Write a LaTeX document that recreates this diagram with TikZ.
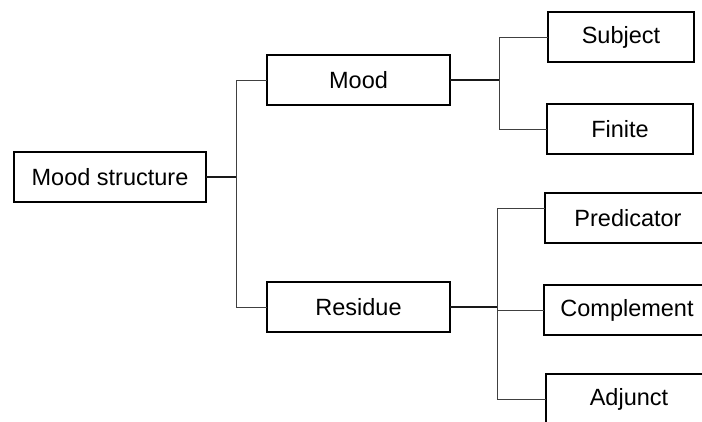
\documentclass[tikz,border=0pt]{standalone}
\usepackage{fontspec}
\setmainfont{Liberation Sans}
\usetikzlibrary{positioning}

\begin{document}
\begin{tikzpicture}[x=1pt, y=1pt,
        box/.style={rectangle, draw, line width=1.3pt, minimum height=50pt, inner sep=0pt, outer sep=0pt, font=\fontsize{23.5}{28}\selectfont},
        rank1/.style={box, minimum width=183pt},
        rank2/.style={box, minimum width=146pt},
        rank3/.style={box, minimum width=166pt},
        link/.style={-, line width=0.9pt, black!75},
        stem/.style={-, line width=1.3pt, black!90}
    ]
        \useasboundingbox (0,0) rectangle (702,421);
        \clip (0,0) rectangle (702,421);

        % Root
        \node[box, minimum width=192pt] (root) at (110,244) {Mood structure};

        % First level
        \node[rank1, above right=47pt and 61pt of root] (mood) {Mood};
        \node[rank1, below right=80pt and 61pt of root] (residue) {Residue};

        \draw[stem] (root.east) -- ++(30,0) coordinate (fork);
        \draw[link] (fork) |- (mood.west);
        \draw[link] (fork) |- (residue.west);

        % Mood branch
        \node[rank2, right=98pt of mood, yshift=43pt] (subject) {Subject};
        \node[rank2, right=97pt of mood, yshift=-49pt] (finite) {Finite};

        \draw[stem] (mood.east) -- ++(49,0) coordinate (mfork);
        \draw[link] (mfork) |- (subject.west);
        \draw[link] (mfork) |- (finite.west);

        % Residue branch
        \node[rank3, right=95pt of residue, yshift=89pt] (predicator) {Predicator};
        \node[rank3, right=94pt of residue, yshift=-3pt] (complement) {Complement};
        \node[rank3, right=96pt of residue, yshift=-92pt] (adjunct) {Adjunct};

        \draw[stem] (residue.east) -- ++(47,0) coordinate (rfork);
        \draw[link] (rfork) |- ([yshift=10pt]predicator.west);
        \draw[link] (rfork) |- (complement.west);
        \draw[link] (rfork) |- (adjunct.west);
    \end{tikzpicture}
\end{document}
